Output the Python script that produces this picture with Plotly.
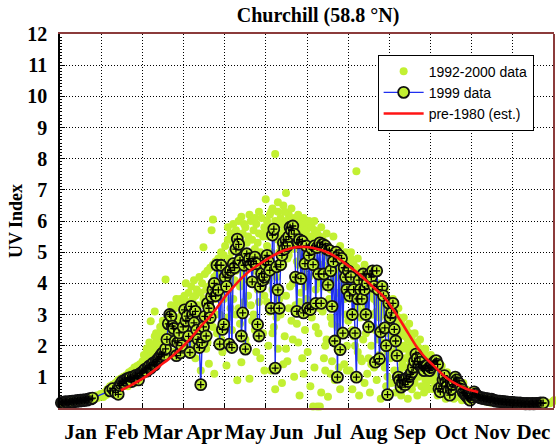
import plotly.graph_objects as go

# ---- data -------------------------------------------------------------
months = ["Jan", "Feb", "Mar", "Apr", "May", "Jun",
          "Jul", "Aug", "Sep", "Oct", "Nov", "Dec"]
y_ticks = list(range(1, 13))

# 1992-2000 daily UV index readings (day of year, UV index)
cloud_points = [
    # Jan
    (2, 0.12), (4, 0.2), (6, 0.15), (8, 0.22), (10, 0.18), (12, 0.25), (14, 0.2), (16, 0.28),
    (18, 0.22), (20, 0.3), (22, 0.25), (24, 0.35), (26, 0.3), (27, 0.4), (28, 0.33), (30, 0.45), (31, 0.38),
    # Feb
    (32, 0.35), (33, 0.5), (34, 0.42), (35, 0.6), (36, 0.48), (37, 0.7), (38, 0.55), (39, 0.75),
    (40, 0.62), (41, 0.8), (42, 0.68), (43, 0.9), (44, 0.72), (45, 0.95), (46, 0.8), (47, 1.0),
    (48, 0.85), (49, 1.05), (50, 0.9), (51, 1.15), (52, 0.95), (53, 1.2), (54, 1.0), (55, 1.3),
    (56, 1.05), (57, 1.35), (58, 1.1), (59, 1.4), (44, 0.55), (50, 0.7), (55, 0.8),
    # Mar
    (60, 1.2), (61, 1.5), (62, 1.3), (63, 1.6), (64, 1.4), (65, 1.75), (66, 1.5), (67, 1.85),
    (67, 2.78), (68, 1.6), (69, 2.0), (70, 3.1), (70, 1.7), (71, 2.1), (72, 1.85), (73, 2.3),
    (74, 1.9), (75, 2.4), (76, 2.1), (77, 2.6), (78, 4.12), (78, 2.2), (79, 2.7), (80, 2.4),
    (81, 2.9), (82, 2.5), (83, 3.1), (84, 2.6), (85, 3.2), (86, 2.8), (87, 3.4), (88, 2.9),
    (89, 3.5), (90, 3.0), (63, 1.1), (68, 1.3), (72, 1.5), (76, 1.6), (80, 1.9), (84, 1.8),
    (88, 2.0), (66, 2.1), (74, 2.6), (82, 3.3),
    (62, 1.7), (65, 1.3), (69, 1.5), (71, 2.4), (73, 1.7), (75, 2.0), (77, 2.3), (79, 2.0),
    (81, 2.3), (83, 2.1), (85, 2.5), (87, 2.2), (89, 2.6), (90, 2.4), (64, 1.9), (70, 2.3),
    (76, 2.8), (86, 3.5),
    # Apr
    (91, 3.3), (92, 3.6), (93, 3.1), (93, 4.0), (94, 3.4), (95, 3.7), (96, 3.2), (97, 3.9),
    (98, 3.5), (99, 4.1), (100, 3.6), (101, 3.8), (102, 3.3), (103, 4.2), (104, 3.7), (105, 4.0),
    (106, 5.16), (106, 3.5), (107, 4.3), (108, 3.8), (109, 4.4), (110, 3.9), (111, 4.5), (112, 4.0),
    (113, 6.05), (113, 4.6), (114, 4.2), (115, 4.7), (116, 4.3), (117, 4.8), (118, 4.4), (119, 5.0),
    (120, 4.5), (112, 5.7), (94, 2.5), (96, 2.0), (98, 2.7), (100, 1.6), (102, 2.2), (104, 1.2),
    (106, 2.6), (108, 1.9), (110, 1.42), (111, 2.8), (114, 1.1), (116, 2.4), (118, 3.0), (120, 1.8),
    (97, 2.9), (103, 3.0), (109, 3.2), (115, 3.5), (119, 3.7),
    (92, 2.2), (95, 2.9), (99, 2.3), (101, 3.0), (105, 2.4), (107, 3.3), (109, 2.1), (111, 3.5),
    (113, 2.6), (115, 3.0), (117, 3.9), (119, 2.2),
    # May
    (121, 4.9), (122, 5.2), (123, 4.6), (124, 5.4), (125, 4.8), (126, 5.6), (127, 5.0), (128, 5.3),
    (129, 4.7), (130, 5.7), (131, 5.1), (132, 5.5), (133, 4.9), (134, 6.14), (134, 5.2), (135, 5.6),
    (136, 5.0), (137, 5.8), (138, 5.3), (139, 5.5), (140, 4.9), (141, 6.0), (142, 5.4), (143, 5.7),
    (144, 5.1), (145, 5.9), (146, 5.3), (147, 5.6), (148, 5.0), (149, 6.1), (150, 5.5), (151, 5.8),
    (123, 1.36), (125, 3.8), (127, 2.5), (129, 4.1), (131, 0.89), (132, 3.2), (134, 1.47), (136, 4.3),
    (137, 2.2), (139, 3.6), (140, 0.94), (142, 2.8), (144, 4.4), (145, 1.8), (147, 3.4), (149, 4.6),
    (150, 2.4), (126, 4.2), (128, 3.5), (130, 4.4), (133, 3.9), (138, 4.6), (141, 4.0), (143, 3.0),
    (146, 4.5), (148, 3.9), (151, 1.2),
    (121, 3.5), (122, 4.4), (124, 2.9), (126, 3.2), (128, 4.7), (130, 3.0), (131, 4.6), (133, 2.7),
    (135, 4.1), (136, 3.4), (138, 2.0), (139, 4.8), (141, 3.3), (142, 5.0), (144, 2.5), (145, 4.9),
    (146, 3.8), (148, 1.6), (150, 4.8), (151, 3.6), (124, 5.8), (128, 5.9), (132, 6.0), (136, 5.9),
    (140, 6.2), (144, 6.1), (147, 6.3),
    # Jun
    (152, 6.7), (152, 5.7), (153, 6.0), (154, 5.5), (155, 6.2), (156, 5.8), (157, 6.4), (158, 5.6),
    (159, 8.15), (159, 6.0), (160, 5.7), (161, 6.3), (162, 5.9), (163, 6.1), (164, 5.6), (165, 6.5),
    (166, 5.8), (167, 6.9), (167, 6.0), (168, 5.7), (169, 6.2), (170, 5.9), (171, 6.0), (172, 5.6),
    (173, 6.1), (174, 5.8), (175, 5.5), (176, 6.0), (177, 5.7), (178, 5.4), (179, 5.9), (180, 5.6),
    (181, 5.8),
    (152, 4.5), (153, 3.4), (154, 2.0), (155, 4.8), (156, 1.2), (157, 3.8), (158, 2.6), (159, 0.6),
    (160, 4.2), (161, 1.9), (162, 5.0), (163, 3.0), (164, 0.8), (165, 4.6), (166, 2.3), (167, 3.6),
    (168, 1.5), (169, 4.9), (171, 2.8), (172, 4.0), (173, 1.0), (174, 3.3), (175, 4.7), (176, 2.1),
    (177, 0.4), (178, 3.7), (179, 1.6), (180, 4.4), (181, 2.5), (155, 3.1), (160, 2.9), (165, 1.4),
    (170, 3.9), (175, 2.7), (180, 1.1), (158, 4.5), (163, 5.2), (168, 4.8), (173, 5.1), (178, 4.9),
    (153, 5.2), (154, 4.1), (156, 5.0), (157, 2.4), (159, 4.4), (161, 5.4), (162, 3.5), (164, 4.6),
    (166, 5.2), (167, 1.9), (169, 3.2), (170, 5.3), (172, 2.2), (174, 5.2), (176, 4.6), (177, 3.4),
    (179, 5.0), (181, 3.9), (156, 6.3), (161, 6.6), (166, 6.3), (171, 6.4), (176, 6.2), (180, 6.1),
    # Jul
    (182, 5.7), (183, 5.4), (184, 5.9), (185, 5.5), (186, 5.8), (187, 5.3), (188, 5.7), (189, 5.4),
    (190, 5.6), (191, 5.2), (192, 5.5), (193, 5.1), (194, 5.4), (195, 5.0), (196, 5.3), (197, 4.9),
    (198, 5.2), (199, 4.8), (200, 5.1), (201, 4.7), (202, 5.0), (203, 4.6), (204, 4.9), (205, 4.5),
    (206, 4.8), (207, 4.4), (208, 4.7), (209, 4.3), (210, 4.6), (211, 4.2), (212, 4.5),
    (182, 3.5), (183, 1.8), (184, 4.2), (185, 0.7), (186, 2.9), (187, 4.5), (188, 1.3), (189, 3.8),
    (190, 0.05), (191, 2.4), (192, 4.0), (193, 0.5), (194, 3.1), (195, 1.6), (196, 4.4), (197, 2.2),
    (198, 0.36), (199, 3.5), (200, 1.1), (201, 2.7), (202, 4.1), (203, 0.9), (204, 3.2), (205, 1.9),
    (206, 3.7), (207, 0.6), (208, 2.5), (209, 3.9), (210, 1.4), (211, 3.0), (212, 2.0), (187, 0.05),
    (192, 0.05), (195, 3.9), (200, 2.9), (205, 2.6), (210, 3.5), (186, 4.9), (191, 4.6), (196, 2.0),
    (201, 1.5),
    (183, 4.8), (185, 3.0), (187, 5.0), (189, 2.6), (190, 4.7), (192, 3.2), (194, 4.6), (196, 1.2),
    (198, 4.3), (200, 3.8), (202, 2.2), (204, 4.2), (206, 1.3), (208, 3.6), (210, 4.0), (212, 1.2),
    (184, 6.0), (188, 6.0), (193, 5.8), (197, 5.6), (202, 5.5), (207, 5.2), (211, 5.0),
    # Aug
    (213, 4.7), (214, 4.4), (215, 4.8), (216, 4.3), (217, 4.6), (218, 4.2), (219, 7.6), (219, 4.5),
    (220, 4.1), (221, 4.4), (222, 4.0), (223, 4.3), (224, 3.9), (225, 4.2), (226, 3.8), (227, 4.1),
    (228, 3.7), (229, 4.0), (230, 3.6), (231, 3.9), (232, 3.5), (233, 3.8), (234, 3.4), (235, 3.7),
    (236, 3.3), (237, 3.6), (238, 3.2), (239, 3.5), (240, 3.1), (241, 3.4), (242, 3.0), (243, 3.2),
    (213, 2.8), (214, 1.2), (215, 3.5), (216, 0.6), (217, 2.3), (218, 3.6), (220, 1.8), (221, 0.4),
    (222, 2.9), (223, 1.5), (224, 3.1), (225, 0.8), (226, 2.4), (227, 1.1), (228, 2.7), (229, 0.5),
    (230, 2.0), (231, 3.0), (232, 1.3), (233, 2.5), (234, 0.9), (235, 2.2), (236, 1.7), (237, 0.3),
    (238, 2.6), (239, 1.5), (240, 2.1), (241, 0.7), (242, 1.8), (243, 2.4), (218, 2.0), (224, 2.2),
    (230, 1.4), (236, 2.9), (242, 1.0),
    (214, 3.6), (216, 2.5), (218, 4.0), (220, 3.2), (222, 1.6), (224, 4.4), (226, 3.3), (228, 1.6),
    (230, 3.0), (232, 2.6), (234, 3.1), (236, 2.3), (238, 3.0), (240, 1.3), (242, 2.6), (215, 5.0),
    (220, 4.8), (225, 4.6), (230, 4.3), (235, 4.0), (240, 3.8),
    # Sep
    (244, 3.3), (245, 2.9), (246, 3.2), (247, 2.8), (248, 3.0), (249, 2.6), (250, 2.9), (251, 2.5),
    (252, 2.8), (253, 2.4), (254, 2.6), (255, 2.3), (256, 2.5), (257, 2.2), (258, 2.4), (259, 2.0),
    (260, 2.3), (261, 1.9), (262, 2.1), (263, 1.8), (264, 2.0), (265, 1.7), (266, 1.9), (267, 1.6),
    (268, 1.8), (269, 1.5), (270, 1.7), (271, 1.4), (272, 1.6), (273, 1.3),
    (244, 1.6), (245, 0.8), (246, 2.2), (247, 1.2), (248, 0.5), (249, 1.9), (250, 1.0), (251, 1.6),
    (252, 0.4), (253, 1.4), (254, 2.0), (255, 0.9), (256, 1.3), (257, 0.3), (258, 1.7), (259, 1.1),
    (260, 0.6), (261, 1.4), (262, 0.8), (263, 1.2), (264, 0.4), (265, 1.0), (266, 1.3), (267, 0.7),
    (268, 1.1), (269, 0.5), (270, 0.9), (271, 1.1), (272, 0.6), (273, 0.9), (250, 2.3), (256, 1.9),
    (262, 1.6),
    (245, 2.3), (247, 1.8), (249, 2.2), (251, 1.2), (253, 1.9), (255, 1.6), (257, 1.9), (259, 1.5),
    (261, 1.0), (263, 1.5), (265, 1.3), (267, 1.2), (269, 1.2), (271, 0.7), (246, 3.5), (250, 3.2),
    (254, 2.9), (258, 2.7), (262, 2.4), (266, 2.2), (270, 1.9),
    # Oct
    (274, 1.5), (275, 1.2), (276, 1.4), (277, 1.1), (278, 1.3), (279, 1.0), (280, 1.2), (281, 0.9),
    (282, 1.1), (283, 0.85), (284, 1.0), (285, 0.8), (286, 0.95), (287, 0.75), (288, 0.9), (289, 0.7),
    (290, 0.85), (291, 0.65), (292, 0.8), (293, 0.6), (294, 0.75), (295, 0.55), (296, 0.7), (297, 0.5),
    (298, 0.65), (299, 0.45), (300, 0.6), (301, 0.42), (302, 0.55), (303, 0.4), (304, 0.5),
    (276, 0.6), (279, 0.4), (282, 0.5), (285, 0.3), (288, 0.45), (291, 0.3), (294, 0.35), (297, 0.25),
    (300, 0.3), (303, 0.2), (278, 0.8), (284, 0.6), (290, 0.5),
    (275, 0.9), (277, 0.7), (280, 0.8), (283, 0.6), (286, 0.5), (289, 0.45), (292, 0.5), (295, 0.4),
    (298, 0.35), (301, 0.3), (274, 1.7), (278, 1.55), (282, 1.35), (286, 1.15), (290, 1.0), (294, 0.9),
    (298, 0.8),
    # Nov
    (305, 0.45), (306, 0.35), (307, 0.42), (308, 0.3), (309, 0.4), (310, 0.28), (311, 0.38), (312, 0.25),
    (313, 0.35), (314, 0.22), (315, 0.32), (316, 0.2), (317, 0.3), (318, 0.18), (319, 0.28), (320, 0.2),
    (321, 0.26), (322, 0.16), (323, 0.25), (324, 0.15), (325, 0.23), (326, 0.14), (327, 0.22), (328, 0.13),
    (329, 0.2), (330, 0.12), (331, 0.19), (332, 0.12), (333, 0.18), (334, 0.1),
    # Dec
    (336, 0.17), (338, 0.1), (340, 0.16), (342, 0.09), (344, 0.15), (346, 0.08), (348, 0.14), (350, 0.08),
    (352, 0.13), (354, 0.1), (356, 0.14), (358, 0.12), (360, 0.18), (362, 0.15), (364, 0.2), (365, 0.25),
]

# 1999 daily UV index (day of year, UV index)
uv_1999 = [
    (1, 0.17), (2, 0.18), (3, 0.16), (4, 0.20), (5, 0.19), (6, 0.18), (7, 0.21), (8, 0.20), (9, 0.22), (10, 0.19),
    (11, 0.23), (12, 0.21), (13, 0.24), (14, 0.22), (15, 0.25), (16, 0.23), (17, 0.26), (18, 0.24), (19, 0.27), (20, 0.25),
    (21, 0.28), (22, 0.30), (23, 0.29), (24, 0.32),
    (37, 0.55), (39, 0.62), (41, 0.50), (43, 0.44),
    (44, 0.72), (45, 0.78), (46, 0.85), (47, 0.80), (48, 0.90), (49, 0.88), (50, 0.95),
    (51, 0.92), (52, 0.98), (53, 0.85), (54, 1.00), (55, 0.95), (56, 1.05), (57, 1.02), (58, 0.90), (59, 1.10), (60, 1.12),
    (61, 1.15), (62, 1.20), (63, 1.25), (64, 1.18), (65, 1.30), (66, 1.35), (67, 1.28), (68, 1.40), (69, 1.45), (70, 1.38),
    (71, 1.50), (72, 1.55), (73, 1.60), (74, 1.65), (75, 1.72), (76, 1.77), (77, 1.70), (78, 1.90), (79, 2.20), (80, 2.70),
    (81, 3.00), (82, 2.94), (83, 2.63), (84, 2.55), (85, 2.15), (86, 1.68), (87, 2.10), (88, 2.41), (89, 1.77), (90, 2.00),
    (91, 2.60), (92, 3.15), (93, 2.80), (94, 2.95), (95, 2.30), (96, 1.78), (97, 3.26), (98, 3.00), (99, 2.73), (100, 3.10),
    (101, 2.50), (102, 2.20), (103, 1.94), (104, 0.75), (105, 2.10), (106, 2.60), (107, 2.94), (108, 2.31), (109, 3.36), (110, 3.20),
    (111, 2.90), (112, 3.58), (113, 3.79), (114, 4.00), (115, 3.60), (116, 4.58), (117, 3.79), (118, 2.05), (119, 4.58), (120, 2.52),
    (121, 2.68), (122, 4.20), (123, 3.90), (124, 4.35), (125, 2.05), (126, 4.42), (127, 1.94), (128, 4.63), (129, 4.50), (130, 5.10),
    (131, 5.42), (132, 5.25), (133, 4.74), (134, 2.31), (135, 3.05), (136, 4.58), (137, 1.89), (138, 4.95), (139, 4.70), (140, 4.79),
    (141, 4.60), (142, 4.05), (143, 4.70), (144, 4.84), (145, 4.63), (146, 2.68), (147, 2.31), (148, 3.90), (149, 4.31), (150, 4.10),
    (151, 4.20), (152, 4.60), (153, 4.90), (154, 4.70), (155, 4.42), (156, 3.20), (157, 5.55), (158, 5.74), (159, 1.28), (160, 4.53),
    (161, 3.79), (162, 3.20), (163, 4.60), (164, 4.90), (165, 5.30), (166, 5.10), (167, 5.40), (168, 5.20), (169, 5.50), (170, 5.80),
    (171, 5.70), (172, 5.84), (173, 5.58), (174, 4.20), (175, 3.10), (176, 5.30), (177, 5.40), (178, 4.15), (179, 5.35), (180, 3.05),
    (181, 4.63), (182, 5.20), (183, 3.20), (184, 4.90), (185, 3.16), (186, 5.10), (187, 4.60), (188, 5.20), (189, 3.36), (190, 5.15),
    (191, 4.30), (192, 5.30), (193, 3.36), (194, 5.25), (195, 4.30), (196, 5.20), (197, 5.10), (198, 3.95), (199, 5.06), (200, 4.40),
    (201, 3.26), (202, 4.70), (203, 2.15), (204, 5.00), (205, 0.99), (206, 4.90), (207, 1.87), (208, 4.80), (209, 2.40), (210, 4.50),
    (211, 4.20), (212, 3.80), (213, 4.40), (214, 3.60), (215, 4.20), (216, 3.00), (217, 3.80), (218, 2.40), (219, 0.99), (220, 3.50),
    (221, 4.10), (222, 3.80), (223, 3.50), (224, 4.30), (225, 3.80), (226, 3.00), (227, 4.00), (228, 2.60), (229, 4.30), (230, 4.20),
    (231, 4.40), (232, 3.90), (233, 1.47), (234, 4.40), (235, 3.80), (236, 1.58), (237, 2.44), (238, 3.90), (239, 3.60), (240, 2.57),
    (241, 2.00), (242, 0.43), (243, 3.36), (244, 2.90), (245, 3.05), (246, 3.36), (247, 2.52), (248, 2.15), (249, 1.68), (250, 0.99),
    (251, 0.89), (252, 0.67), (253, 0.80), (254, 0.90), (255, 0.75), (256, 0.95), (257, 0.85), (258, 1.00), (259, 1.08), (260, 1.15),
    (261, 1.30), (262, 1.50), (263, 1.73), (264, 1.60), (265, 1.40), (266, 1.47), (267, 1.31), (268, 1.26), (269, 1.20), (270, 1.35),
    (271, 1.35), (272, 1.26), (273, 1.20), (274, 1.30), (275, 1.40), (276, 1.45), (277, 1.50), (278, 1.52), (279, 1.40), (280, 0.62),
    (281, 0.52), (282, 0.70), (283, 0.90), (284, 1.04), (285, 0.83), (286, 0.70), (287, 0.55), (288, 0.41), (289, 0.60), (290, 0.75),
    (291, 0.85), (292, 0.99), (293, 0.90), (294, 0.80), (295, 0.78), (296, 0.70), (297, 0.60), (298, 0.50), (299, 0.46), (300, 0.40),
    (301, 0.35), (302, 0.30), (303, 0.25), (304, 0.35), (305, 0.45), (306, 0.52), (307, 0.45), (308, 0.40), (309, 0.36), (310, 0.34),
    (311, 0.32), (312, 0.33), (313, 0.30), (314, 0.31), (315, 0.28), (316, 0.30), (317, 0.27), (318, 0.26), (319, 0.28), (320, 0.25),
    (321, 0.24), (322, 0.22), (323, 0.23), (324, 0.21), (325, 0.22), (326, 0.20), (327, 0.21), (328, 0.19), (329, 0.20), (330, 0.18),
    (331, 0.19), (332, 0.18), (333, 0.17), (334, 0.18), (335, 0.16), (336, 0.17), (337, 0.15), (338, 0.16), (339, 0.15), (340, 0.16),
    (341, 0.14), (342, 0.15), (343, 0.14), (344, 0.13), (345, 0.15), (346, 0.14), (347, 0.13), (348, 0.14), (349, 0.15), (350, 0.13),
    (351, 0.14), (352, 0.15), (353, 0.14), (354, 0.15), (355, 0.16), (356, 0.15), (357, 0.16),
]

# pre-1980 estimated climatology (day of year, UV index)
pre1980_day = [45, 52, 61, 68, 74, 80, 86, 92, 98, 104, 111, 117, 123, 129, 135, 141, 148, 154, 160, 166,
               172, 178, 184, 190, 196, 202, 208, 214, 220, 226, 232, 239, 245, 251, 257, 263, 269, 276,
               282, 288, 294, 300, 305, 309]
pre1980_uv = [0.57, 0.72, 0.94, 1.15, 1.36, 1.56, 1.78, 2.03, 2.31, 2.62, 2.94, 3.28, 3.63, 3.93, 4.2, 4.43,
              4.63, 4.8, 4.95, 5.06, 5.14, 5.17, 5.16, 5.1, 5.02, 4.9, 4.73, 4.53, 4.33, 4.1, 3.86, 3.58,
              3.23, 2.84, 2.42, 2.0, 1.66, 1.36, 1.1, 0.89, 0.74, 0.62, 0.55, 0.51]

# ---- styling ----------------------------------------------------------
GREEN = "#c2f032"
BROWN = "#8b3b3b"
SERIF = "Liberation Serif"
SANS = "Liberation Sans"

cloud_day = [p[0] for p in cloud_points]
cloud_uv = [p[1] for p in cloud_points]
d99 = [p[0] for p in uv_1999]
v99 = [p[1] for p in uv_1999]

month_len = 365 / 12
month_mid = [month_len * (i + 0.5) for i in range(12)]
month_edges = [month_len * i for i in range(1, 12)]

fig = go.Figure()

fig.add_trace(go.Scatter(
    x=cloud_day, y=cloud_uv, mode="markers", name="1992-2000 data",
    marker=dict(size=8, color=GREEN, line=dict(width=0)),
    cliponaxis=False,
))

fig.add_trace(go.Scatter(
    x=d99, y=v99, mode="lines+markers", name="1999 data",
    line=dict(color="#1f2ff0", width=1.4),
    marker=dict(size=11, color=GREEN, line=dict(color="#111111", width=1.8)),
    cliponaxis=False,
))

# small crosshair in the centre of every 1999 marker
fig.add_trace(go.Scatter(
    x=d99, y=v99, mode="markers", showlegend=False, hoverinfo="skip",
    marker=dict(symbol="cross-thin", size=5, line=dict(color="black", width=1.3)),
    cliponaxis=False,
))

fig.add_trace(go.Scatter(
    x=pre1980_day, y=pre1980_uv, mode="lines", name="pre-1980 (est.)",
    line=dict(color="#ff1414", width=2.6, shape="spline"),
))

grid_dash = "1px,2px"

fig.update_layout(
    width=556, height=446,
    margin=dict(l=60, r=2, t=34, b=33),
    paper_bgcolor="white", plot_bgcolor="white",
    title=dict(
        text="Churchill (58.8 °N)", x=0.572, xanchor="center",
        y=0.966, yanchor="middle",
        font=dict(family=SERIF, size=20, color="black", weight="bold"),
    ),
    showlegend=True,
    legend=dict(
        x=0.643, y=0.945, xanchor="left", yanchor="top",
        bgcolor="white", bordercolor="black", borderwidth=1,
        font=dict(family=SANS, size=14, color="black"),
        tracegroupgap=0, itemwidth=40,
    ),
    xaxis=dict(
        range=[0, 365], showgrid=False, zeroline=False,
        tickmode="array", tickvals=month_mid, ticktext=months,
        ticks="", ticklabelstandoff=4,
        tickfont=dict(family=SERIF, size=21, color="black", weight="bold"),
        showline=True, linecolor=BROWN, linewidth=2, mirror=True,
        minor=dict(tickmode="array", tickvals=month_edges, showgrid=True,
                   gridcolor="black", griddash=grid_dash, gridwidth=1,
                   ticks="inside", ticklen=5, tickcolor="black"),
    ),
    yaxis=dict(
        range=[0, 12], zeroline=False,
        tickmode="array", tickvals=y_ticks, ticktext=[str(v) for v in y_ticks],
        showgrid=True, gridcolor="black", griddash=grid_dash, gridwidth=1,
        ticks="inside", ticklen=5, tickcolor="black", ticklabelstandoff=7,
        tickfont=dict(family=SERIF, size=20, color="black", weight="bold"),
        showline=True, linecolor="black", linewidth=1.5,
        minor=dict(dtick=0.1, tick0=0, ticks="inside", ticklen=2.5, tickcolor="black"),
        title=dict(text="UV Index", standoff=0,
                   font=dict(family=SERIF, size=18, color="black", weight="bold")),
    ),
    shapes=[dict(type="line", xref="paper", yref="paper", x0=1, x1=1, y0=0, y1=1,
                 line=dict(color=BROWN, width=2))],
)

fig.write_html("out.html")
